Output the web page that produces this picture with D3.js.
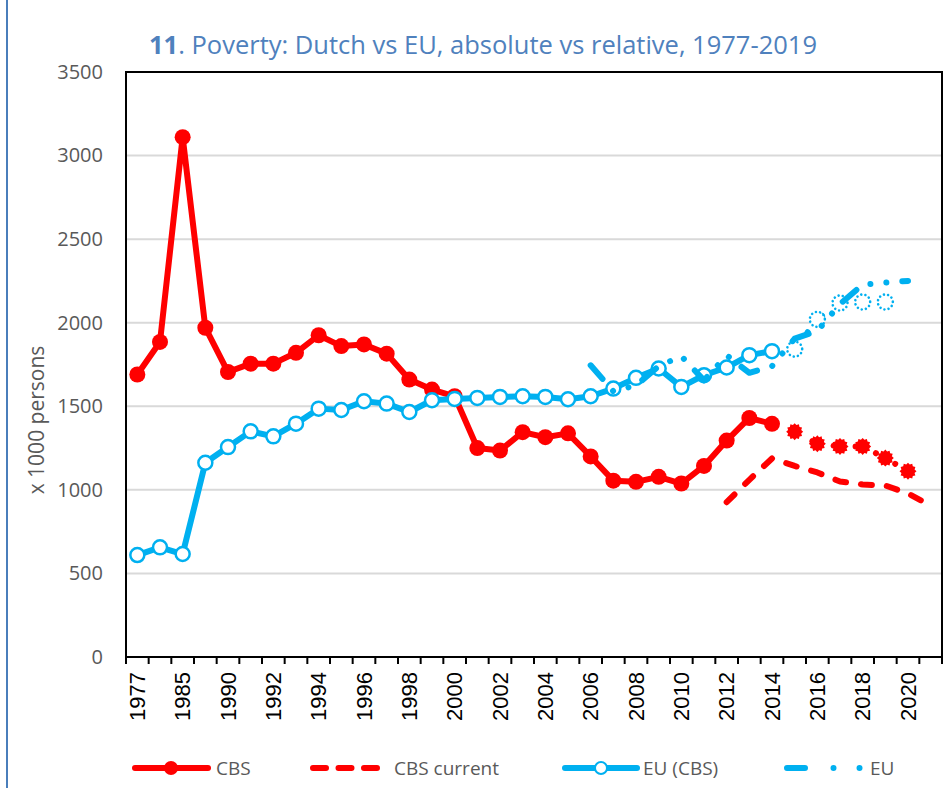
<!DOCTYPE html>
<html>
<head>
<meta charset="utf-8">
<script src="https://cdn.jsdelivr.net/npm/d3@7"></script>
<style>
  body { margin: 0; background: #fff; }
  svg { display: block; }
</style>
</head>
<body>
<div id="chart"></div>
<script>

// Poverty chart: Dutch vs EU, absolute vs relative

const width = 947;
const height = 788;
const margin = {left: 126, right: 5, top: 72, bottom: 131};

// categories on the x axis (only every other one gets a label)
const years = ["1977", "1981", "1985", "1987", "1990", "1991", "1992", "1993", "1994",
  "1995", "1996", "1997", "1998", "1999", "2000", "2001", "2002", "2003", "2004",
  "2005", "2006", "2007", "2008", "2009", "2010", "2011", "2012", "2013", "2014",
  "2015", "2016", "2017", "2018", "2019", "2020", "2021"];

const yTicks = [0, 500, 1000, 1500, 2000, 2500, 3000, 3500];

// CBS, solid part (from 1977)
const cbs = [1690, 1885, 3110, 1970, 1705, 1755, 1755, 1820, 1925, 1860, 1870, 1815,
  1660, 1600, 1560, 1250, 1235, 1345, 1315, 1338, 1200, 1055, 1048, 1078, 1038, 1143,
  1295, 1430, 1395];
// CBS, dotted continuation (from 2014)
const cbsTail = [1395, 1348, 1276, 1260, 1260, 1190, 1112];
// CBS current (from 2012)
const cbsCurrent = [926, 1060, 1188, 1143, 1104, 1050, 1032, 1026, 978, 906];
// EU (CBS), solid part (from 1977)
const euCbs = [610, 656, 616, 1162, 1256, 1350, 1320, 1396, 1486, 1478, 1530, 1516,
  1466, 1536, 1544, 1550, 1556, 1560, 1556, 1542, 1560, 1606, 1670, 1726, 1616, 1686,
  1732, 1806, 1830];
// EU (CBS), dotted continuation (from 2014)
const euCbsTail = [1830, 1842, 2020, 2118, 2124, 2124];
// EU (from 2006)
const eu = [1745, 1590, 1625, 1740, 1800, 1655, 1805, 1700, 1740, 1905, 1950, 2112,
  2228, 2240, 2250];

const red = "#FF0000";
const blue = "#00B0F0";
const gray = "#595959";
const font = "'Open Sans', sans-serif";

// turn a value list that starts at a given year into points
function points(values, startYear) {
  const start = years.indexOf(startYear);
  return values.map((v, i) => ({year: years[start + i], v: v}));
}

const svg = d3.select("#chart")
  .append("svg")
  .attr("width", width)
  .attr("height", height)
  .attr("viewBox", [0, 0, width, height]);

// outer chart border (only the left side is visible)
svg.append("line")
  .attr("x1", 7).attr("x2", 7)
  .attr("y1", 0).attr("y2", height)
  .attr("stroke", "#4A7EBB")
  .attr("stroke-width", 2);

/*

  Scales

*/

const xScale = d3.scaleBand()
  .domain(years)
  .range([margin.left, width - margin.right])
  .padding(0);

const yScale = d3.scaleLinear()
  .domain([0, 3500])
  .range([height - margin.bottom, margin.top]);

const cx = d => xScale(d.year) + xScale.bandwidth() / 2;

// gridlines
svg.append("g")
  .selectAll("line")
  .data(yTicks.filter(t => t > 0 && t < 3500))
  .join("line")
    .attr("x1", margin.left)
    .attr("x2", width - margin.right)
    .attr("y1", d => yScale(d))
    .attr("y2", d => yScale(d))
    .attr("stroke", "#D9D9D9")
    .attr("stroke-width", 2);

// plot frame
svg.append("rect")
  .attr("x", margin.left)
  .attr("y", margin.top)
  .attr("width", width - margin.right - margin.left)
  .attr("height", height - margin.bottom - margin.top)
  .attr("fill", "none")
  .attr("stroke", "#000")
  .attr("stroke-width", 2);

/*

  Axes

*/

const yAxis = svg.append("g")
  .attr("transform", `translate(${margin.left - 23}, 0)`)
  .call(d3.axisLeft(yScale)
    .tickValues(yTicks)
    .tickFormat(d3.format("d"))
    .tickSize(0)
    .tickPadding(0));
yAxis.select(".domain").remove();
yAxis.selectAll("text")
  .attr("fill", gray)
  .attr("font-family", font)
  .attr("font-size", "20px");

const xAxis = svg.append("g")
  .attr("transform", `translate(0, ${height - margin.bottom})`)
  .call(d3.axisBottom(xScale)
    .tickSize(0)
    .tickFormat((d, i) => i % 2 === 0 ? d : ""));
xAxis.select(".domain").remove();
xAxis.selectAll("text")
  .attr("fill", "#000")
  .attr("font-family", "'Liberation Sans', Arial, sans-serif")
  .attr("font-size", "22px")
  .attr("text-anchor", "end")
  .attr("dy", "0.35em")
  .attr("transform", "translate(0, 15) rotate(-90)")
  .attr("x", 0)
  .attr("y", 0);

// tick marks sit between the categories
svg.append("g")
  .selectAll("line")
  .data(years.concat(["end"]))
  .join("line")
    .attr("x1", (d, i) => margin.left + i * xScale.step())
    .attr("x2", (d, i) => margin.left + i * xScale.step())
    .attr("y1", height - margin.bottom)
    .attr("y2", height - margin.bottom + 7)
    .attr("stroke", "#000")
    .attr("stroke-width", 2);

svg.append("text")
  .attr("transform", "translate(44, 420) rotate(-90)")
  .attr("text-anchor", "middle")
  .attr("fill", gray)
  .attr("font-family", font)
  .attr("font-size", "21px")
  .text("x 1000 persons");

// title
const title = svg.append("text")
  .attr("x", 483)
  .attr("y", 54)
  .attr("text-anchor", "middle")
  .attr("fill", "#4F81BD")
  .attr("font-family", font)
  .attr("font-size", "25.5px");
title.append("tspan").attr("font-weight", "bold").text("11");
title.append("tspan").text(". Poverty: Dutch vs EU, absolute vs relative, 1977-2019");

/*

  Lines

*/

const line = d3.line()
  .x(cx)
  .y(d => yScale(d.v));

function starPath(r1, r2, n) {
  const pts = d3.range(n * 2).map(i => [i * Math.PI / n, i % 2 ? r2 : r1]);
  return d3.lineRadial().curve(d3.curveLinearClosed)(pts);
}

// CBS
const cbsPts = points(cbs, "1977");
const cbsTailPts = points(cbsTail, "2014");

svg.append("path")
  .datum(cbsPts)
  .attr("d", line)
  .attr("fill", "none")
  .attr("stroke", red)
  .attr("stroke-width", 6)
  .attr("stroke-linejoin", "round");

svg.append("path")
  .datum(cbsTailPts)
  .attr("d", line)
  .attr("fill", "none")
  .attr("stroke", red)
  .attr("stroke-width", 6)
  .attr("stroke-linecap", "round")
  .attr("stroke-dasharray", "0.01,22");

svg.append("g")
  .selectAll("circle")
  .data(cbsPts)
  .join("circle")
    .attr("cx", cx)
    .attr("cy", d => yScale(d.v))
    .attr("r", 8)
    .attr("fill", red);

svg.append("g")
  .selectAll("path")
  .data(cbsTailPts.slice(1))
  .join("path")
    .attr("transform", d => `translate(${cx(d)}, ${yScale(d.v)})`)
    .attr("d", starPath(8.5, 6.8, 12))
    .attr("fill", red);

// CBS current
svg.append("path")
  .datum(points(cbsCurrent, "2012"))
  .attr("d", line)
  .attr("fill", "none")
  .attr("stroke", red)
  .attr("stroke-width", 6)
  .attr("stroke-linecap", "round")
  .attr("stroke-linejoin", "round")
  .attr("stroke-dasharray", "11,15");

// EU (CBS)
const euCbsPts = points(euCbs, "1977");
const euCbsTailPts = points(euCbsTail, "2014");

svg.append("path")
  .datum(euCbsPts)
  .attr("d", line)
  .attr("fill", "none")
  .attr("stroke", blue)
  .attr("stroke-width", 6)
  .attr("stroke-linejoin", "round");

svg.append("path")
  .datum(euCbsTailPts)
  .attr("d", line)
  .attr("fill", "none")
  .attr("stroke", blue)
  .attr("stroke-width", 6)
  .attr("stroke-linecap", "round")
  .attr("stroke-dasharray", "0.01,22");

svg.append("g")
  .selectAll("circle")
  .data(euCbsPts)
  .join("circle")
    .attr("cx", cx)
    .attr("cy", d => yScale(d.v))
    .attr("r", 7)
    .attr("fill", "#fff")
    .attr("stroke", blue)
    .attr("stroke-width", 2.5);

svg.append("g")
  .selectAll("circle")
  .data(euCbsTailPts.slice(1))
  .join("circle")
    .attr("cx", cx)
    .attr("cy", d => yScale(d.v))
    .attr("r", 7.5)
    .attr("fill", "#fff")
    .attr("stroke", blue)
    .attr("stroke-width", 2.6)
    .attr("stroke-linecap", "round")
    .attr("stroke-dasharray", "0.01,4.2");

// EU
svg.append("path")
  .datum(points(eu, "2006"))
  .attr("d", line)
  .attr("fill", "none")
  .attr("stroke", blue)
  .attr("stroke-width", 6)
  .attr("stroke-linecap", "round")
  .attr("stroke-linejoin", "round")
  .attr("stroke-dasharray", "18,16,0.01,16,0.01,16");

/*

  Legend

*/

const legY = 768;
const legend = svg.append("g")
  .attr("font-family", font)
  .attr("font-size", "19px")
  .attr("fill", gray);

// CBS
legend.append("line")
  .attr("x1", 135).attr("x2", 208).attr("y1", legY).attr("y2", legY)
  .attr("stroke", red).attr("stroke-width", 6).attr("stroke-linecap", "round");
legend.append("circle")
  .attr("cx", 171).attr("cy", legY).attr("r", 7).attr("fill", red);
legend.append("text").attr("x", 216).attr("y", legY).attr("dy", "0.35em").text("CBS");

// CBS current
legend.append("line")
  .attr("x1", 313).attr("x2", 377).attr("y1", legY).attr("y2", legY)
  .attr("stroke", red).attr("stroke-width", 6).attr("stroke-linecap", "round")
  .attr("stroke-dasharray", "13,12.5");
legend.append("text").attr("x", 394).attr("y", legY).attr("dy", "0.35em").text("CBS current");

// EU (CBS)
legend.append("line")
  .attr("x1", 565).attr("x2", 637).attr("y1", legY).attr("y2", legY)
  .attr("stroke", blue).attr("stroke-width", 6).attr("stroke-linecap", "round");
legend.append("circle")
  .attr("cx", 601).attr("cy", legY).attr("r", 6)
  .attr("fill", "#fff").attr("stroke", blue).attr("stroke-width", 2);
legend.append("text").attr("x", 643).attr("y", legY).attr("dy", "0.35em").text("EU (CBS)");

// EU
legend.append("line")
  .attr("x1", 787).attr("x2", 860).attr("y1", legY).attr("y2", legY)
  .attr("stroke", blue).attr("stroke-width", 6).attr("stroke-linecap", "round")
  .attr("stroke-dasharray", "18,28.5,0.01,26,0.01,100");
legend.append("text").attr("x", 870).attr("y", legY).attr("dy", "0.35em").text("EU");

</script>
</body>
</html>
